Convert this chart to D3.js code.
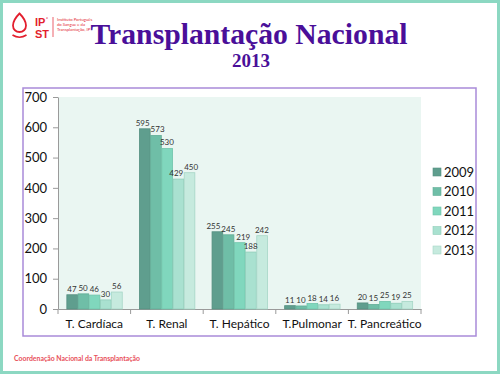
<!DOCTYPE html>
<html>
<head>
<meta charset="utf-8">
<script src="https://cdn.jsdelivr.net/npm/d3@7"></script>
<style>
  html, body { margin: 0; padding: 0; background: #fff; }
  svg { display: block; font-family: Lato, 'Open Sans', sans-serif; }
</style>
</head>
<body>
<div id="chart"></div>
<script>
// Données
const categories = ['T. Cardíaca', 'T. Renal', 'T. Hepático', 'T.Pulmonar', 'T. Pancreático'];
const years = ['2009', '2010', '2011', '2012', '2013'];
const v2009 = [47, 595, 255, 11, 20];
const v2010 = [50, 573, 245, 10, 15];
const v2011 = [46, 530, 219, 18, 25];
const v2012 = [30, 429, 188, 14, 19];
const v2013 = [56, 450, 242, 16, 25];
const yTicks = [0, 100, 200, 300, 400, 500, 600, 700];

const series = [v2009, v2010, v2011, v2012, v2013];
const fills = ['#5f9e8e', '#6fbea7', '#80d7bd', '#a9e1d0', '#c6eade'];
const strokes = ['#558f80', '#62ad97', '#6fc4aa', '#8fcdb9', '#a6d6c6'];

const width = 500, height = 374;

const svg = d3.select('#chart')
    .append('svg')
    .attr('width', width)
    .attr('height', height);

// Cadre de la diapo
svg.append('rect')
    .attr('x', 1.5).attr('y', 1.5)
    .attr('width', width - 3).attr('height', height - 3)
    .attr('fill', '#fff')
    .attr('stroke', '#8cd8c2')
    .attr('stroke-width', 3);

// Logo IPST
const red = '#e31e2d';
const logo = svg.append('g').attr('fill', 'none').attr('stroke', red);
logo.append('path')
    .attr('d', 'M19.5,13.5 C16,17 13,21 13,25.5 C13,29.5 16,32 19.5,32 C23,32 26,29.5 26,25.5 C26,21 23,17 19.5,13.5 Z')
    .attr('stroke-width', 1.8);
logo.append('path')
    .attr('d', 'M12.5,35 Q19.5,39.5 26.5,35')
    .attr('stroke-width', 1.6);
logo.append('line')
    .attr('x1', 53).attr('x2', 53).attr('y1', 17).attr('y2', 37)
    .attr('stroke-width', 0.7);

const ipst = svg.append('text')
    .style('font-family', "'Liberation Sans', sans-serif")
    .style('font-size', '11px').style('font-weight', 'bold').style('fill', red);
ipst.append('tspan').attr('x', 35).attr('y', 25.5).text('IP');
ipst.append('tspan').attr('dx', 0.5).attr('y', 20.5).style('font-size', '5px').text('°');
ipst.append('tspan').attr('x', 35).attr('y', 37.9).text('ST');

const small = svg.append('text')
    .style('font-size', '4.2px').style('fill', red);
['Instituto Português', 'do Sangue e da', 'Transplantação, IP'].forEach((t, i) => {
    small.append('tspan').attr('x', 57).attr('y', 21 + i * 5).text(t);
});

// Titre
svg.append('text')
    .attr('x', 249).attr('y', 44)
    .attr('text-anchor', 'middle')
    .attr('textLength', 317)
    .attr('lengthAdjust', 'spacingAndGlyphs')
    .style('font-family', "'Liberation Serif', 'DejaVu Serif', serif")
    .style('font-size', '29px')
    .style('font-weight', 'bold')
    .style('fill', '#4a0f99')
    .text('Transplantação Nacional');

svg.append('text')
    .attr('x', 251).attr('y', 67)
    .attr('text-anchor', 'middle')
    .style('font-family', "'Liberation Serif', 'DejaVu Serif', serif")
    .style('font-size', '19px')
    .style('font-weight', 'bold')
    .style('fill', '#4a0f99')
    .text('2013');

// Cadre du graphique
svg.append('rect')
    .attr('x', 23).attr('y', 88)
    .attr('width', 453).attr('height', 248)
    .attr('fill', '#fff')
    .attr('stroke', '#a98bd9')
    .attr('stroke-width', 1.5);

// Échelles
const plot = { left: 58, right: 421, top: 97, bottom: 309 };

const x0 = d3.scaleBand()
    .domain(categories)
    .range([plot.left, plot.right])
    .paddingInner(0.23)
    .paddingOuter(0.115);

const x1 = d3.scaleBand()
    .domain(years)
    .range([0, x0.bandwidth()]);

const y = d3.scaleLinear()
    .domain([0, 700])
    .range([plot.bottom, plot.top]);

// Fond de la zone de tracé
svg.append('rect')
    .attr('x', plot.left).attr('y', plot.top)
    .attr('width', plot.right - plot.left)
    .attr('height', plot.bottom - plot.top)
    .attr('fill', '#eaf6f2');

// Axe Y
const yAxis = svg.append('g')
    .attr('transform', `translate(${plot.left},0)`)
    .call(d3.axisLeft(y).tickValues(yTicks).tickSize(5).tickPadding(6).tickSizeOuter(0));
yAxis.selectAll('text')
    .style('font-family', 'Lato, sans-serif')
    .style('font-size', '13px')
    .style('fill', '#111');
yAxis.selectAll('path, line').style('stroke', '#9a9a9a');

// Axe X
const xAxis = svg.append('g')
    .attr('transform', `translate(0,${plot.bottom})`)
    .call(d3.axisBottom(x0).tickSize(0).tickPadding(10).tickSizeOuter(0));
xAxis.selectAll('text')
    .style('font-family', 'Lato, sans-serif')
    .style('font-size', '12px')
    .style('fill', '#111');
xAxis.select('.domain').style('stroke', '#9a9a9a');

// Séparateurs entre catégories
const step = x0.step();
const bounds = d3.range(categories.length + 1).map(i => plot.left + i * step);
svg.append('g').selectAll('line')
    .data(bounds)
    .enter()
    .append('line')
    .attr('x1', d => d).attr('x2', d => d)
    .attr('y1', plot.bottom).attr('y2', plot.bottom + 5)
    .style('stroke', '#9a9a9a');

// Barres
const groups = svg.append('g').selectAll('g')
    .data(categories)
    .enter()
    .append('g')
    .attr('transform', d => `translate(${x0(d)},0)`);

const cells = (c, ci) => years.map((yr, si) => ({ yr, si, value: series[si][ci] }));

groups.selectAll('rect')
    .data(cells)
    .enter()
    .append('rect')
    .attr('x', d => x1(d.yr) + 0.5)
    .attr('y', d => y(d.value))
    .attr('width', x1.bandwidth() - 0.5)
    .attr('height', d => y(0) - y(d.value))
    .attr('fill', d => fills[d.si])
    .attr('stroke', d => strokes[d.si])
    .attr('stroke-width', 0.8);

// Étiquettes de valeurs, écartées si elles se chevauchent
groups.each(function (c, ci) {
    const labels = d3.select(this).selectAll('text')
        .data(cells(c, ci))
        .enter()
        .append('text')
        .attr('text-anchor', 'middle')
        .style('font-size', '8px')
        .style('fill', '#333')
        .text(d => d.value);

    const items = [];
    labels.each(function (d) {
        items.push({
            node: this,
            x: x1(d.yr) + x1.bandwidth() / 2,
            y: y(d.value) - 3,
            w: this.getComputedTextLength() + 1
        });
    });

    for (let iter = 0; iter < 30; iter++) {
        for (let i = 1; i < items.length; i++) {
            const a = items[i - 1], b = items[i];
            if (Math.abs(a.y - b.y) > 9) continue;
            const overlap = (a.w + b.w) / 2 - (b.x - a.x);
            if (overlap > 0) {
                a.x -= overlap / 2;
                b.x += overlap / 2;
            }
        }
    }

    items.forEach(it => {
        d3.select(it.node).attr('x', it.x).attr('y', it.y);
    });
});

// Légende
const legend = svg.append('g').selectAll('g')
    .data(years)
    .enter()
    .append('g')
    .attr('transform', (d, i) => `translate(433,${172 + i * 19.5})`);

legend.append('rect')
    .attr('x', 0).attr('y', -4)
    .attr('width', 8).attr('height', 8)
    .attr('fill', (d, i) => fills[i])
    .attr('stroke', (d, i) => strokes[i])
    .attr('stroke-width', 0.6);

legend.append('text')
    .attr('x', 11).attr('y', 0)
    .attr('dy', '0.35em')
    .style('font-size', '13px')
    .style('fill', '#111')
    .text(d => d);

// Pied de page
svg.append('text')
    .attr('x', 14).attr('y', 361)
    .attr('textLength', 126)
    .attr('lengthAdjust', 'spacingAndGlyphs')
    .style('font-size', '7px')
    .style('font-weight', 'bold')
    .style('fill', '#e8505a')
    .text('Coordenação Nacional da Transplantação');
</script>
</body>
</html>
